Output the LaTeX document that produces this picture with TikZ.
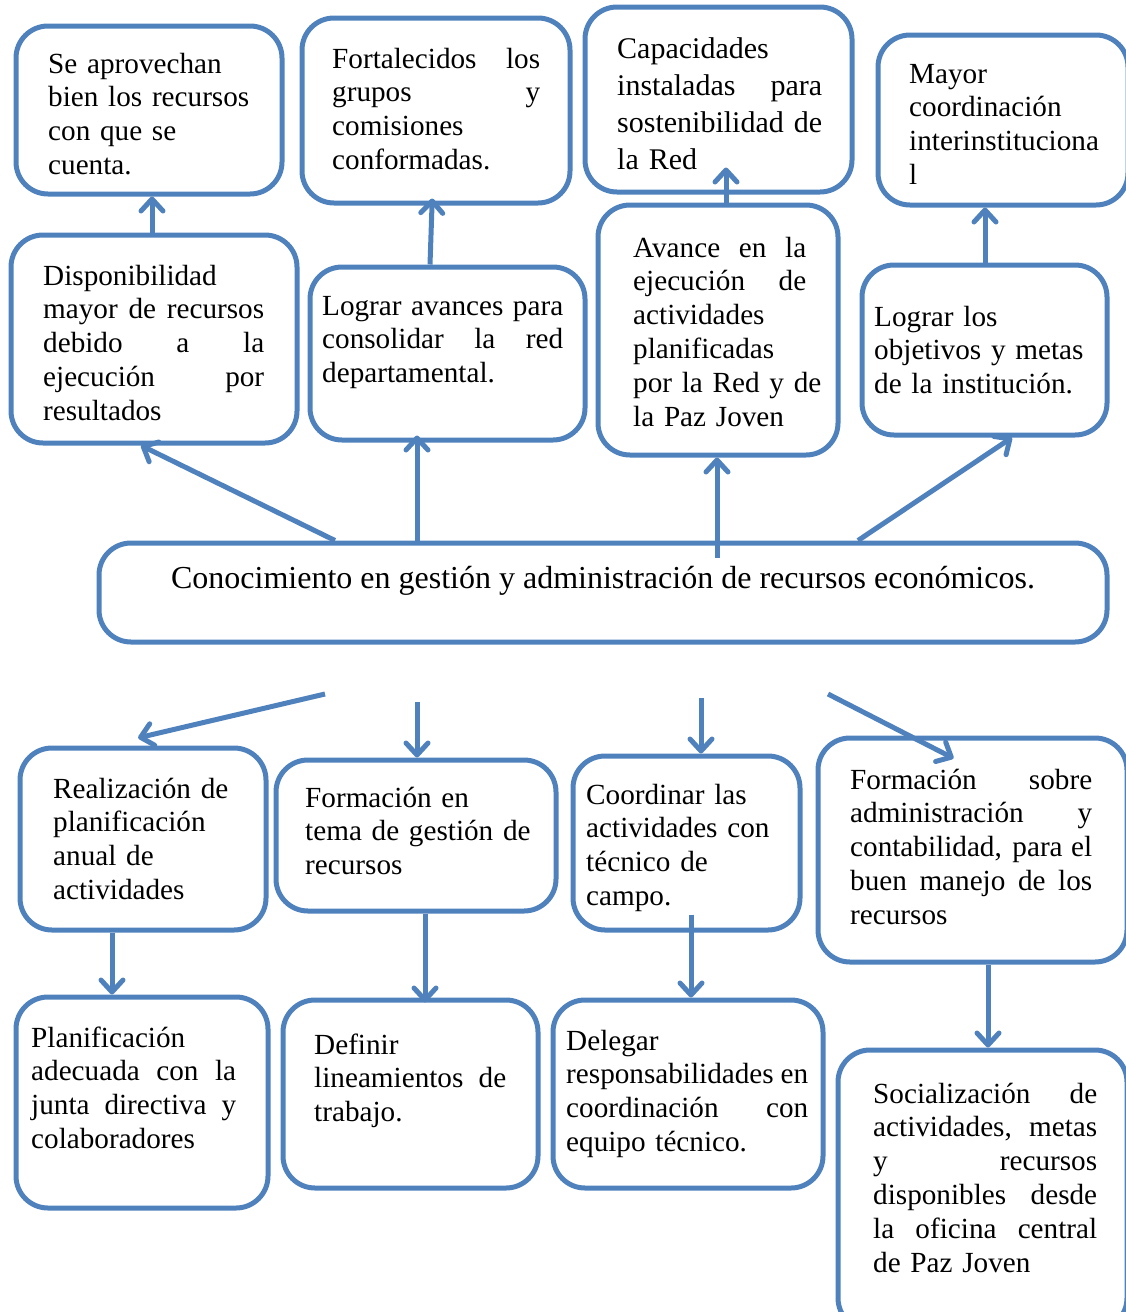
\documentclass[tikz,border=0pt]{standalone}
\usepackage{fontspec}
\setmainfont{Liberation Serif}
\usetikzlibrary{arrows.meta}
\definecolor{bl}{RGB}{79,129,189}
\newcommand{\mj}[2]{\leavevmode\hbox to #1pt{\spaceskip=0pt plus 1fil\xspaceskip=0pt plus 1fil\relax #2}}
\begin{document}
\begin{tikzpicture}[x=1pt,y=-1pt,
  box/.style={draw=bl, line width=5pt, rounded corners=32pt, inner sep=0pt},
  txt/.style={inner sep=0pt, anchor=base west, text width=400pt, font=\fontsize{29.2}{33.8}\selectfont},
  arr/.style={draw=bl, line width=5pt, -{Straight Barb[round,length=12pt,width=22pt]}}]
\useasboundingbox (0,0) rectangle (1125,1312);
% boxes
\node[box, minimum width=266pt, minimum height=168pt] (A) at (149,110) {};
\node[box, minimum width=268pt, minimum height=185pt] (B) at (436,110.5) {};
\node[box, minimum width=267pt, minimum height=185pt] (C) at (718.5,99.5) {};
\node[box, minimum width=250pt, minimum height=170pt] (D) at (1003,120) {};
\node[box, minimum width=286pt, minimum height=208pt] (E) at (154,339) {};
\node[box, minimum width=275pt, minimum height=173pt] (F) at (447.5,353.5) {};
\node[box, minimum width=240pt, minimum height=250pt] (G) at (718,330) {};
\node[box, minimum width=245pt, minimum height=170pt] (H) at (984.5,350) {};
\node[box, minimum width=1008pt, minimum height=99pt] (Z) at (603,592.5) {};
\node[box, minimum width=246pt, minimum height=182pt] (I) at (143,839) {};
\node[box, minimum width=280pt, minimum height=151pt] (J) at (416,835.5) {};
\node[box, minimum width=227pt, minimum height=174pt] (K) at (686.5,843) {};
\node[box, minimum width=309pt, minimum height=224pt] (L) at (972.5,850) {};
\node[box, minimum width=252pt, minimum height=211pt] (M) at (142,1102.5) {};
\node[box, minimum width=255pt, minimum height=188pt] (N) at (410.5,1094) {};
\node[box, minimum width=270pt, minimum height=188pt] (O) at (688,1094) {};
\node[box, minimum width=289pt, minimum height=280pt] (P) at (982.5,1190) {};
% texts
\node[txt] (tA) at (48,73) {Se aprovechan\\ bien los recursos\\ con que se\\ cuenta.};
\node[txt] (tB) at (332,68) {\mj{208}{Fortalecidos los}\\ \mj{208}{grupos y}\\ comisiones\\ conformadas.};
\node[txt, font=\fontsize{30}{37}\selectfont] (tC) at (617,58) {Capacidades\\ \mj{205}{instaladas para}\\ \mj{205}{sostenibilidad de}\\ la Red};
\node[txt] (tD) at (909,83) {Mayor\\ coordinación\\ interinstituciona\\ l};
\node[txt] (tE) at (43,285) {Disponibilidad\\ \mj{221}{mayor de recursos}\\ \mj{221}{debido a la}\\ \mj{221}{ejecución por}\\ resultados};
\node[txt] (tF) at (322,315) {\mj{241}{Lograr avances para}\\ \mj{241}{consolidar la red}\\ departamental.};
\node[txt] (tG) at (633,257) {\mj{173}{Avance en la}\\ \mj{173}{ejecución de}\\ actividades\\ planificadas\\ por la Red y de\\ la Paz Joven};
\node[txt] (tH) at (874,326) {Lograr los\\ objetivos y metas\\ de la institución.};
\node[txt, text width=, font=\fontsize{32}{37}\selectfont, anchor=base] (tZ) at (603,588) {Conocimiento en gestión y administración de recursos económicos.};
\node[txt] (tI) at (53,798) {Realización de\\ planificación\\ anual de\\ actividades};
\node[txt] (tJ) at (305,807) {Formación en\\ tema de gestión de\\ recursos};
\node[txt] (tK) at (586,804) {Coordinar las\\ actividades con\\ técnico de\\ campo.};
\node[txt] (tL) at (850,789) {\mj{242}{Formación sobre}\\ \mj{242}{administración y}\\ \mj{242}{contabilidad, para el}\\ \mj{242}{buen manejo de los}\\ recursos};
\node[txt] (tM) at (31,1047) {Planificación\\ \mj{205}{adecuada con la}\\ \mj{205}{junta directiva y}\\ colaboradores};
\node[txt] (tN) at (314,1054) {Definir\\ \mj{192}{lineamientos de}\\ trabajo.};
\node[txt] (tO) at (566,1050) {Delegar\\ \mj{242}{responsabilidades en}\\ \mj{242}{coordinación con}\\ equipo técnico.};
\node[txt] (tP) at (873,1103) {\mj{224}{Socialización de}\\ \mj{224}{actividades, metas}\\ \mj{224}{y recursos}\\ \mj{224}{disponibles desde}\\ \mj{224}{la oficina central}\\ de Paz Joven};
% free start points below the central box
\coordinate (s1) at (325,694);
\coordinate (s2) at (417,702);
\coordinate (s3) at (701,698);
\coordinate (s4) at (828,694);
% arrows upper part
\draw[arr] (Z.north -| 335,0) -- (E.south -| 141,0);
\draw[arr, shorten >=-7pt] (Z.north -| 417,0) -- (F.south -| 417,0);
\draw[arr, shorten <=-17pt] (Z.north -| 717,0) -- (G.south -| 717,0);
\draw[arr] (Z.north -| 858,0) -- (H.south -| 1012,0);
\draw[arr] (E.north -| 152,0) -- (A.south -| 152,0);
\draw[arr, shorten >=-7pt] (F.north -| 430,0) -- (B.south -| 432,0);
\draw[arr, shorten >=-27pt] (G.north -| 726,0) -- (C.south -| 726,0);
\draw[arr] (H.north -| 985,0) -- (D.south -| 985,0);
% arrows lower part
\draw[arr, shorten >=33.5pt] (s1) -- (I.north -| 105.5,0);
\draw[arr] (s2) -- (J.north -| 417,0);
\draw[arr] (s3) -- (K.north -| 701,0);
\draw[arr, shorten >=-50pt] (s4) -- (L.north -| 909,0);
\draw[arr] (I.south -| 112,0) -- (M.north -| 112,0);
\draw[arr, shorten >=-5pt] (J.south -| 425,0) -- (N.north -| 425,0);
\draw[arr, shorten <=-18pt] (K.south -| 691,0) -- (O.north -| 691,0);
\draw[arr] (L.south -| 988,0) -- (P.north -| 988,0);
\end{tikzpicture}
\end{document}
